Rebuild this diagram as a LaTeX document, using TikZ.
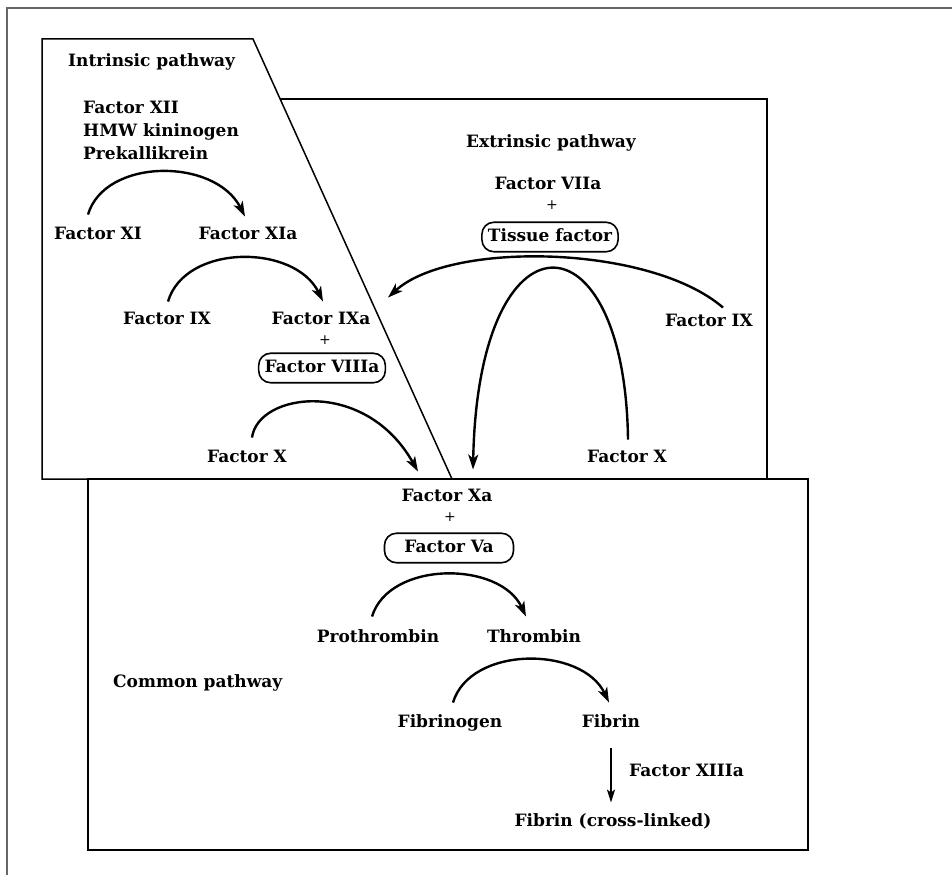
\documentclass[tikz,border=0pt]{standalone}
\usepackage{fontspec}
\setmainfont{DejaVu Serif}
\usetikzlibrary{arrows.meta}
\begin{document}
\begin{tikzpicture}[x=1pt,y=-1pt,
  lbl/.style={font=\fontsize{17}{23}\selectfont\bfseries, inner sep=0pt,
              text height=12.5pt, text depth=4pt},
  multi/.style={font=\fontsize{17}{23}\selectfont\bfseries, inner sep=0pt, align=left},
  cofactor/.style={lbl, draw, rounded corners=12pt, line width=1.6pt,
                   inner xsep=6pt, inner ysep=6.5pt},
  plus/.style={font=\fontsize{14}{18}\selectfont, inner sep=0pt},
  react/.style={line width=2.4pt, -{Stealth[length=15pt,width=10pt,inset=4pt]}},
  frame/.style={line width=1.5pt},
  outer/.style={line width=1.5pt, black!60}
]
\useasboundingbox (0,0) rectangle (952,875);

% page frame
\draw[outer] (7,875) -- (7,8) -- (952,8);

% pathway regions
\draw[frame] (88,479) -- (42,479) -- (42,39) -- (253,39) -- (452,479);
\draw[frame] (280,99) -- (767,99) -- (767,479);
\draw[frame] (88,479) rectangle (808,850);

% intrinsic pathway
\node[lbl, anchor=west] (intr) at (68,62) {Intrinsic pathway};
\node[multi, anchor=west] (contact) at (83,130) {Factor XII\\HMW kininogen\\Prekallikrein};
\node[lbl] (fxi)  at (98,235)  {Factor XI};
\node[lbl] (fxia) at (248,235) {Factor XIa};
\node[lbl] (fix)  at (167,320) {Factor IX};
\node[lbl] (fixa) at (321,320) {Factor IXa};
\node[plus] (p1) at (325,340) {+};
\node[cofactor] (f8) at (322,368) {Factor VIIIa};
\node[lbl] (fx1)  at (247,458) {Factor X};

% extrinsic pathway
\node[lbl] (extr) at (551,143) {Extrinsic pathway};
\node[lbl] (f7)   at (548,185) {Factor VIIa};
\node[plus] (p2) at (552,205) {+};
\node[cofactor] (tf) at (550,237) {Tissue factor};
\node[lbl] (fix2) at (709,322) {Factor IX};
\node[lbl] (fx2)  at (627,458) {Factor X};

% common pathway
\node[lbl] (fxa)  at (447,497) {Factor Xa};
\node[plus] (p3) at (450,517) {+};
\node[cofactor, minimum width=129pt] (f5) at (449,548) {Factor Va};
\node[lbl] (pro)  at (378,638) {Prothrombin};
\node[lbl] (thr)  at (534,638) {Thrombin};
\node[lbl, anchor=west] (comm) at (113,683) {Common pathway};
\node[lbl] (fbg)  at (450,723) {Fibrinogen};
\node[lbl] (fbn)  at (611,723) {Fibrin};
\node[lbl, anchor=west] (f13) at (629,772) {Factor XIIIa};
\node[lbl] (fcl)  at (613,822) {Fibrin (cross-linked)};

% reactions
\draw[react] ([shift={(-10,-12)}]fxi.north)
  .. controls +(17,-57) and +(-30,-59) .. ([shift={(-3,-10)}]fxia.north);
\draw[react] ([shift={(1,-10)}]fix.north)
  .. controls +(17,-58) and +(-28,-58) .. ([shift={(2,-10)}]fixa.north);
\draw[react] ([shift={(5,-12)}]fx1.north)
  .. controls +(6,-45) and +(-53,-94) .. ([shift={(-29,-17)}]fxa.north);
\draw[react] ([shift={(14,-6)}]fix2.north)
  .. controls +(-73,-63) and +(62,-57) .. ([shift={(67,-14)}]fixa.north);
\draw[react] ([shift={(1,-10)}]fx2.north)
  .. controls +(-3,-230) and +(5,-265) .. ([shift={(26,-19)}]fxa.north);
\draw[react] ([shift={(-6,-13)}]pro.north)
  .. controls +(17,-56) and +(-26,-56) .. ([shift={(-8,-13)}]thr.north);
\draw[react] ([shift={(3,-12)}]fbg.north)
  .. controls +(17,-57) and +(-27,-57) .. ([shift={(-2,-12)}]fbn.north);
\draw[line width=1.8pt, -{Stealth[length=13pt,width=8pt,inset=3pt]}]
  ([shift={(0,17)}]fbn.south) -- ([shift={(-2,-11)}]fcl.north);
\end{tikzpicture}
\end{document}
